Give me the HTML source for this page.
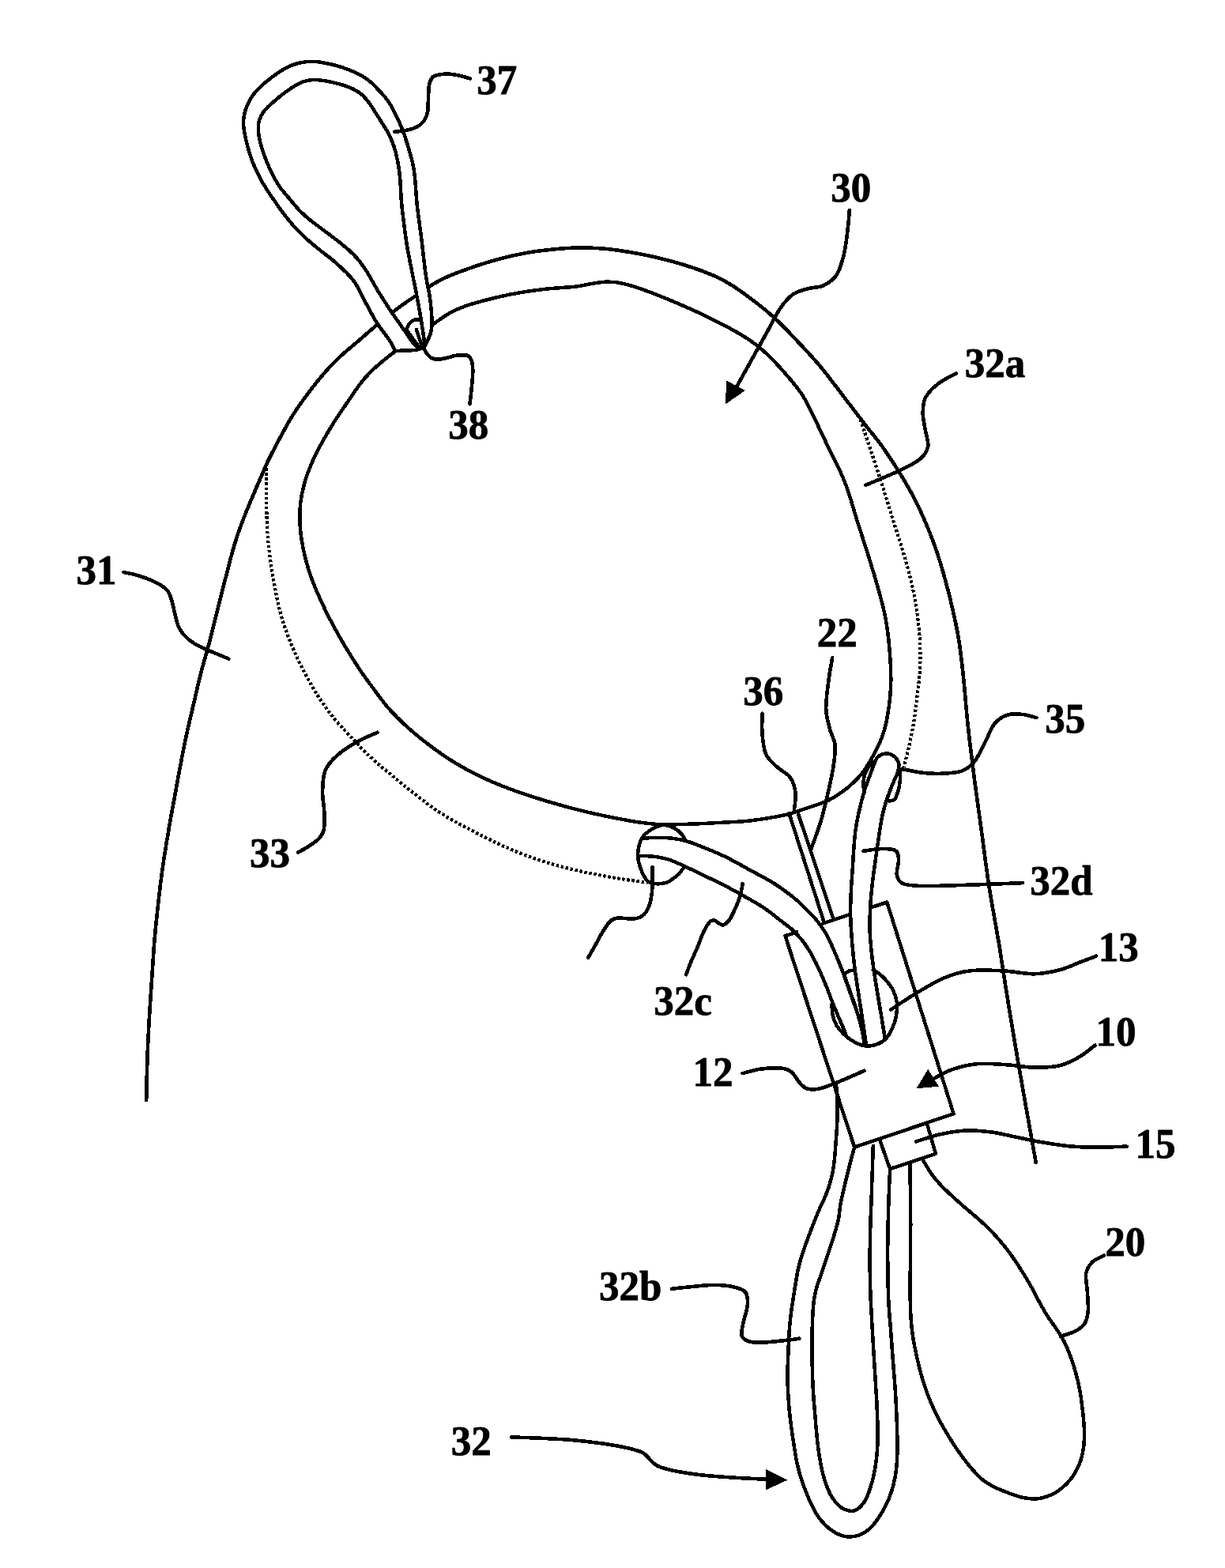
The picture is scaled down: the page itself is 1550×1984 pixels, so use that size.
<!DOCTYPE html>
<html lang="en"><head><meta charset="utf-8"><title>Patent drawing</title>
<style>
html,body{margin:0;padding:0;background:#fff;}
body{width:1550px;height:1984px;overflow:hidden;}
svg{display:block;}
.l{fill:none;stroke:#000;stroke-width:4.5;stroke-linecap:round;stroke-linejoin:round;}
.t{fill:none;stroke:#000;stroke-width:4.6;stroke-linecap:round;stroke-linejoin:round;}
.d{fill:none;stroke:#000;stroke-width:4.2;stroke-dasharray:3.4 2.7;stroke-linecap:butt;}
.h{fill:none;stroke:#000;stroke-width:4.6;stroke-linecap:round;stroke-linejoin:round;}
.w{fill:#fff;stroke:none;}
.a{fill:#000;stroke:#000;stroke-width:1;stroke-linejoin:miter;}
text{font-family:"Liberation Serif","DejaVu Serif",serif;font-weight:bold;font-size:51px;fill:#000;stroke:#000;stroke-width:0.8px;stroke-linejoin:round;}
</style></head><body>
<svg shape-rendering="crispEdges" xmlns="http://www.w3.org/2000/svg" width="1550" height="1984" viewBox="0 0 1550 1984">
<rect width="1550" height="1984" fill="#fff"/>
<path class="h" d="M185.2 1391.9 C185.2 1389.5 185.3 1383.1 185.5 1377.5 C185.6 1371.8 185.7 1364.6 185.9 1358.1 C186.1 1351.6 186.3 1345.0 186.5 1338.7 C186.7 1332.4 186.9 1326.3 187.2 1320.3 C187.5 1314.2 187.8 1308.3 188.1 1302.3 C188.4 1296.3 188.7 1290.3 189.1 1284.3 C189.5 1278.2 189.9 1272.2 190.3 1266.1 C190.7 1260.1 191.1 1254.0 191.5 1248.0 C191.9 1241.9 192.3 1235.9 192.7 1229.8 C193.1 1223.8 193.4 1217.7 193.9 1211.7 C194.3 1205.6 194.7 1199.6 195.2 1193.5 C195.7 1187.5 196.3 1181.3 196.8 1175.3 C197.4 1169.2 198.1 1163.0 198.7 1157.1 C199.3 1151.1 200.0 1145.2 200.6 1139.6 C201.3 1133.9 201.8 1128.6 202.5 1123.0 C203.2 1117.5 203.9 1111.8 204.7 1106.1 C205.4 1100.4 206.3 1094.8 207.1 1089.0 C208.0 1083.2 209.0 1077.2 209.9 1071.4 C210.8 1065.6 211.8 1059.8 212.8 1054.1 C213.7 1048.4 214.6 1042.8 215.6 1037.2 C216.6 1031.6 217.7 1026.0 218.7 1020.6 C219.7 1015.2 220.6 1010.1 221.6 1004.7 C222.6 999.4 223.6 993.8 224.6 988.2 C225.6 982.7 226.6 977.2 227.7 971.7 C228.7 966.1 229.8 960.6 230.8 955.1 C231.9 949.5 233.0 944.0 234.1 938.5 C235.3 932.9 236.5 927.4 237.7 921.9 C238.9 916.4 240.3 910.8 241.6 905.3 C242.8 899.8 244.2 894.2 245.5 888.7 C246.8 883.1 248.0 877.5 249.3 872.0 C250.6 866.4 251.8 860.9 253.2 855.4 C254.6 849.9 256.0 844.7 257.6 839.1 C259.1 833.4 260.9 827.5 262.5 821.7 C264.1 815.9 265.6 810.1 267.1 804.3 C268.6 798.5 270.0 792.9 271.5 786.9 C273.0 780.9 274.5 774.3 276.1 768.2 C277.6 762.1 279.1 756.0 280.6 750.0 C282.2 744.0 283.7 738.1 285.2 732.2 C286.8 726.2 288.3 720.0 289.8 714.3 C291.3 708.6 292.6 703.5 294.2 698.0 C295.7 692.6 297.3 686.9 299.1 681.4 C300.9 675.8 302.9 670.2 304.9 664.9 C306.8 659.6 308.7 654.8 310.7 649.7 C312.8 644.6 314.7 639.8 317.0 634.3 C319.3 628.9 321.8 623.0 324.3 617.2 C326.8 611.4 329.4 605.2 331.9 599.5 C334.4 593.8 336.8 588.1 339.4 582.8 C341.9 577.5 344.4 572.8 347.1 567.6 C349.8 562.4 352.8 556.8 355.6 551.6 C358.4 546.4 361.1 541.5 363.8 536.6 C366.6 531.8 369.2 527.2 372.3 522.5 C375.3 517.8 378.6 513.1 382.0 508.4 C385.3 503.7 388.9 498.9 392.5 494.2 C396.1 489.5 399.8 484.7 403.6 480.1 C407.4 475.5 411.2 471.0 415.2 466.6 C419.2 462.2 423.3 457.9 427.6 453.8 C432.0 449.6 436.8 445.6 441.3 441.6 C445.9 437.7 450.7 433.8 455.1 430.0 C459.5 426.2 463.6 422.5 467.9 418.8 C472.2 415.1 476.5 411.5 480.9 407.8 C485.3 404.2 489.6 400.8 494.3 397.1 C499.0 393.4 504.3 389.3 509.3 385.7 C514.4 382.0 519.7 378.7 524.5 375.4 C529.3 372.2 533.6 368.9 538.2 365.9 C542.7 362.9 546.8 360.2 551.7 357.4 C556.6 354.7 562.2 351.9 567.6 349.5 C573.0 347.1 578.5 345.1 584.3 343.0 C590.2 340.8 596.6 338.5 602.7 336.5 C608.8 334.4 615.0 332.5 621.1 330.7 C627.2 328.9 633.3 327.2 639.4 325.7 C645.4 324.2 651.3 322.9 657.4 321.7 C663.4 320.5 669.5 319.4 675.8 318.4 C682.2 317.5 689.2 316.7 695.5 316.0 C701.7 315.3 707.2 314.7 713.3 314.3 C719.3 313.9 725.5 313.6 731.6 313.5 C737.7 313.4 743.7 313.5 750.0 313.8 C756.4 314.0 763.4 314.5 769.7 315.2 C776.0 315.8 781.6 316.7 787.8 317.6 C794.0 318.5 800.4 319.6 806.6 320.8 C812.8 321.9 818.9 323.2 825.0 324.5 C831.1 325.9 837.1 327.3 843.1 328.8 C849.1 330.4 855.2 332.1 861.0 333.8 C866.8 335.6 872.3 337.3 877.9 339.2 C883.5 341.1 889.0 343.0 894.4 345.2 C899.7 347.3 904.8 349.4 910.0 352.0 C915.3 354.6 920.7 357.7 925.8 360.8 C930.9 364.0 935.6 367.4 940.4 370.8 C945.2 374.2 950.0 377.7 954.7 381.3 C959.3 384.9 964.0 388.6 968.5 392.3 C973.0 396.1 977.4 400.0 981.6 403.9 C985.9 407.9 989.9 411.9 994.0 416.1 C998.1 420.2 1002.2 424.6 1006.3 428.9 C1010.4 433.1 1014.3 437.3 1018.3 441.7 C1022.4 446.0 1026.6 450.6 1030.6 455.1 C1034.5 459.7 1038.5 464.3 1042.2 468.9 C1046.0 473.5 1049.5 478.1 1053.0 482.8 C1056.6 487.4 1060.2 492.2 1063.8 497.0 C1067.4 501.8 1071.0 506.5 1074.8 511.4 C1078.6 516.4 1082.7 521.8 1086.5 526.7 C1090.2 531.6 1093.9 536.4 1097.3 540.8 C1100.7 545.1 1103.8 548.7 1106.8 552.6 C1109.9 556.5 1112.6 559.8 1115.7 564.2 C1118.9 568.5 1122.3 573.8 1125.8 578.9 C1129.2 584.0 1132.8 589.6 1136.2 595.0 C1139.6 600.4 1143.0 605.9 1146.2 611.4 C1149.4 616.8 1152.5 622.3 1155.4 627.7 C1158.3 633.2 1160.9 638.6 1163.5 644.1 C1166.1 649.6 1168.5 655.1 1170.9 660.7 C1173.3 666.3 1175.7 672.0 1177.9 677.8 C1180.2 683.5 1182.4 689.5 1184.3 695.2 C1186.3 700.9 1188.0 706.3 1189.7 711.8 C1191.4 717.4 1193.0 723.0 1194.6 728.6 C1196.1 734.2 1197.6 739.7 1199.1 745.3 C1200.5 750.8 1201.9 756.3 1203.2 761.8 C1204.5 767.3 1205.8 772.8 1207.0 778.3 C1208.2 783.7 1209.4 788.9 1210.4 794.5 C1211.5 800.0 1212.6 805.7 1213.5 811.5 C1214.4 817.2 1215.1 823.0 1215.9 829.0 C1216.6 834.9 1217.3 841.3 1218.0 847.4 C1218.7 853.5 1219.3 859.6 1219.9 865.5 C1220.4 871.3 1220.9 876.7 1221.4 882.5 C1221.9 888.2 1222.4 894.2 1223.0 900.2 C1223.5 906.2 1224.2 912.5 1224.8 918.5 C1225.5 924.5 1226.1 930.3 1226.8 936.4 C1227.6 942.5 1228.3 948.9 1229.1 955.2 C1229.9 961.5 1230.7 968.0 1231.4 974.2 C1232.2 980.4 1233.0 986.3 1233.8 992.3 C1234.6 998.3 1235.4 1004.1 1236.2 1010.0 C1237.0 1015.9 1237.8 1021.9 1238.6 1027.8 C1239.5 1033.8 1240.3 1039.8 1241.1 1045.7 C1241.9 1051.6 1242.7 1057.5 1243.5 1063.4 C1244.3 1069.3 1245.0 1075.1 1245.8 1081.0 C1246.6 1086.9 1247.3 1092.8 1248.2 1098.7 C1249.0 1104.6 1249.8 1110.6 1250.7 1116.6 C1251.6 1122.5 1252.6 1128.4 1253.6 1134.6 C1254.6 1140.8 1255.8 1147.4 1256.9 1153.7 C1258.0 1160.0 1259.2 1166.7 1260.2 1172.4 C1261.2 1178.2 1262.2 1183.4 1263.0 1188.4 C1263.9 1193.5 1264.6 1197.9 1265.4 1202.7 C1266.1 1207.6 1266.8 1212.1 1267.6 1217.5 C1268.4 1222.9 1269.4 1229.0 1270.4 1235.4 C1271.4 1241.8 1272.6 1249.2 1273.6 1255.8 C1274.7 1262.4 1275.7 1268.9 1276.8 1275.3 C1277.8 1281.6 1278.8 1287.5 1279.8 1293.7 C1280.8 1299.9 1281.9 1306.2 1282.9 1312.4 C1284.0 1318.6 1285.0 1324.8 1286.1 1331.0 C1287.1 1337.1 1288.1 1343.2 1289.2 1349.3 C1290.3 1355.4 1291.4 1361.7 1292.4 1367.7 C1293.5 1373.7 1294.5 1379.6 1295.5 1385.4 C1296.5 1391.1 1297.5 1396.4 1298.5 1402.3 C1299.6 1408.2 1300.7 1414.8 1301.8 1420.7 C1302.8 1426.5 1303.7 1431.6 1304.7 1437.2 C1305.8 1442.9 1306.8 1448.9 1307.8 1454.5 C1308.8 1460.1 1310.2 1468.2 1310.6 1471.0"/>
<path class="w" d="M500.2 444.3 L499.0 441.9 L497.3 438.4 L495.4 434.8 L493.4 431.5 L491.2 428.2 L488.8 424.9 L486.4 421.7 L483.9 418.4 L481.5 415.2 L479.2 411.9 L477.0 408.7 L474.9 405.4 L473.0 402.2 L471.3 398.9 L469.4 395.5 L467.5 391.9 L465.4 388.2 L463.5 384.5 L461.7 381.2 L460.1 377.9 L458.4 374.6 L456.7 371.1 L455.0 367.7 L453.2 364.3 L451.1 360.9 L449.0 357.5 L446.7 354.4 L444.2 351.4 L441.6 348.6 L438.9 345.7 L436.1 342.9 L433.1 340.0 L430.1 337.2 L427.0 334.3 L423.8 331.5 L420.6 328.8 L417.3 326.1 L414.0 323.6 L410.6 321.0 L407.3 318.4 L403.9 315.7 L400.5 313.0 L397.1 310.2 L393.7 307.4 L390.4 304.5 L387.2 301.6 L384.0 298.7 L380.8 295.6 L377.8 292.6 L374.7 289.4 L371.8 286.2 L369.0 283.0 L366.3 279.8 L363.7 276.5 L361.1 273.2 L358.6 270.0 L356.1 266.7 L353.7 263.4 L351.4 260.1 L349.1 256.8 L346.8 253.4 L344.6 250.1 L342.3 246.8 L340.1 243.5 L337.9 240.1 L335.7 236.7 L333.5 233.3 L331.4 229.8 L329.4 226.2 L327.5 222.5 L325.7 218.6 L323.9 214.8 L322.2 211.0 L320.5 207.2 L319.0 203.4 L317.6 199.6 L316.4 195.9 L315.2 192.2 L314.1 188.5 L313.2 184.8 L312.2 181.0 L311.3 177.2 L310.5 173.4 L309.7 169.4 L309.0 165.4 L308.4 161.3 L308.1 157.3 L308.1 153.3 L308.4 149.3 L309.0 145.3 L309.9 141.3 L311.2 137.4 L312.7 133.5 L314.5 129.7 L316.5 125.9 L318.7 122.3 L321.1 119.1 L323.6 116.1 L326.2 113.2 L329.0 110.3 L331.9 107.6 L334.9 105.0 L338.0 102.4 L341.3 99.9 L344.5 97.4 L347.7 95.0 L351.0 92.7 L354.2 90.6 L357.4 88.5 L360.6 86.7 L363.9 84.9 L367.4 83.4 L371.0 82.0 L374.8 80.7 L378.9 79.7 L383.2 78.8 L387.5 78.2 L391.8 77.9 L396.1 77.8 L400.4 78.0 L404.7 78.6 L409.0 79.3 L413.3 80.2 L417.6 81.1 L421.9 82.1 L426.2 83.2 L430.6 84.5 L434.9 86.0 L439.1 87.5 L443.2 89.1 L447.1 90.7 L450.8 92.4 L454.3 94.1 L457.5 95.8 L460.7 97.7 L464.1 100.0 L467.4 102.6 L470.5 105.2 L473.1 107.7 L475.6 110.3 L478.0 113.0 L480.7 115.7 L483.3 118.5 L485.9 121.3 L488.4 124.4 L490.8 127.6 L493.0 130.8 L495.0 134.1 L496.7 137.4 L498.4 140.7 L500.1 143.9 L501.7 147.2 L503.3 150.6 L505.0 154.3 L506.7 158.0 L508.2 161.7 L509.7 165.3 L511.0 168.9 L512.3 172.7 L513.6 176.6 L514.9 180.6 L516.2 184.8 L517.4 189.0 L518.7 193.3 L519.8 197.6 L521.0 201.9 L522.0 206.1 L522.9 210.2 L523.6 214.2 L524.2 218.1 L524.7 222.0 L525.1 225.9 L525.4 229.9 L525.8 233.9 L526.0 237.9 L526.3 241.8 L526.6 245.9 L526.9 250.3 L527.3 254.9 L527.7 259.3 L528.2 263.4 L528.7 267.5 L529.2 271.6 L529.8 275.8 L530.3 280.1 L530.9 284.4 L531.5 288.8 L532.1 293.1 L532.7 297.4 L533.2 301.6 L533.7 305.7 L534.2 309.8 L534.7 314.0 L535.2 318.2 L535.6 322.2 L536.0 326.0 L536.5 329.8 L536.9 333.5 L537.4 337.2 L537.8 340.9 L538.3 344.5 L538.8 348.0 L539.3 351.5 L539.9 354.9 L540.5 358.4 L541.2 361.8 L541.9 365.3 L542.6 368.9 L543.3 372.5 L543.9 376.2 L544.4 379.8 L544.8 383.5 L545.2 387.2 L545.6 391.1 L545.9 395.0 L546.2 399.0 L546.4 403.2 L546.6 407.5 L546.5 411.7 L546.1 415.5 L545.4 419.2 L544.3 423.2 L542.8 426.9 L540.8 431.1 L539.0 434.9 L537.7 437.5 L537.7 437.5 L537.3 434.9 L536.8 431.1 L536.3 427.2 L535.8 423.6 L535.2 419.8 L534.6 416.0 L534.0 412.1 L533.4 408.2 L532.7 404.2 L532.1 400.2 L531.4 396.2 L530.7 392.2 L530.0 388.1 L529.2 384.1 L528.5 380.1 L527.8 376.3 L527.0 372.5 L526.3 368.8 L525.6 365.2 L524.9 361.7 L524.2 358.2 L523.5 354.8 L522.8 351.4 L522.1 347.9 L521.4 344.3 L520.6 340.5 L519.9 336.8 L519.1 333.2 L518.4 329.6 L517.7 325.7 L516.9 321.6 L516.1 317.2 L515.3 312.9 L514.7 308.8 L514.0 304.6 L513.4 300.5 L512.9 296.3 L512.3 292.0 L511.7 287.7 L511.2 283.3 L510.6 278.9 L510.1 274.6 L509.6 270.7 L509.2 266.9 L508.7 263.0 L508.3 258.9 L507.9 254.8 L507.6 250.8 L507.4 247.2 L507.2 243.8 L507.1 240.4 L506.9 236.6 L506.7 232.8 L506.4 228.9 L506.0 224.9 L505.7 220.9 L505.2 216.8 L504.6 212.7 L503.9 208.4 L503.2 204.2 L502.3 199.9 L501.4 195.6 L500.3 191.4 L499.1 187.2 L497.7 183.1 L496.2 179.1 L494.6 175.3 L492.9 171.5 L491.0 167.8 L488.8 164.2 L486.5 160.5 L484.3 157.0 L482.1 153.5 L479.9 150.1 L477.8 146.7 L475.8 143.5 L473.7 140.3 L471.7 137.2 L469.6 134.0 L467.5 130.8 L465.2 127.7 L462.7 124.8 L460.1 121.9 L457.3 119.3 L454.2 116.9 L450.8 114.8 L447.2 112.8 L443.3 111.0 L439.1 109.4 L434.8 107.9 L430.6 106.6 L426.3 105.5 L421.9 104.5 L417.6 103.6 L413.3 102.7 L409.0 102.0 L404.7 101.4 L400.4 101.0 L396.1 101.0 L391.9 101.4 L387.7 102.3 L383.7 103.4 L380.2 104.8 L376.8 106.5 L373.5 108.4 L370.3 110.3 L367.1 112.5 L363.9 114.7 L360.6 117.1 L357.4 119.5 L354.1 122.1 L350.9 124.8 L347.7 127.5 L344.6 130.2 L341.8 132.7 L339.1 135.1 L336.6 137.7 L334.2 140.6 L332.0 143.7 L330.2 146.9 L328.8 150.2 L327.7 153.6 L327.0 157.2 L326.7 161.0 L326.8 165.1 L327.2 169.2 L327.9 173.4 L328.8 177.8 L329.8 182.1 L331.1 186.5 L332.5 190.8 L333.9 195.1 L335.5 199.4 L337.2 203.7 L338.8 207.8 L340.5 211.6 L342.1 215.2 L343.8 218.7 L345.4 222.0 L347.1 225.2 L348.9 228.4 L350.8 231.6 L352.8 234.8 L355.0 238.0 L357.3 241.0 L359.8 243.9 L362.4 246.9 L364.9 250.0 L367.5 253.0 L370.1 256.1 L372.8 259.2 L375.4 262.4 L378.1 265.3 L380.8 268.1 L383.6 270.8 L386.5 273.4 L389.4 275.9 L392.3 278.4 L395.3 280.7 L398.4 283.1 L401.5 285.4 L404.6 287.7 L407.8 290.0 L410.9 292.4 L414.0 294.7 L417.2 297.0 L420.3 299.4 L423.4 301.8 L426.6 304.2 L429.8 306.8 L433.0 309.4 L436.2 312.0 L439.5 314.8 L442.7 317.6 L445.8 320.6 L448.8 323.6 L451.7 326.7 L454.4 329.9 L456.9 333.2 L459.3 336.5 L461.7 340.0 L464.0 343.5 L466.2 347.1 L468.3 350.6 L470.3 354.2 L472.3 357.7 L474.3 361.3 L476.3 364.8 L478.4 368.4 L480.6 371.9 L482.9 375.5 L485.1 379.0 L487.4 382.6 L489.7 386.2 L491.9 389.7 L494.2 393.1 L496.5 396.4 L498.7 399.7 L501.0 403.0 L503.2 406.2 L505.5 409.4 L507.7 412.6 L510.0 415.8 L512.3 419.1 L514.6 422.5 L516.9 425.8 L519.2 429.1 L521.6 432.3 L523.9 435.3 L526.5 437.6 L531.2 439.0 L535.0 439.4Z"/>
<path class="l" d="M500.2 444.3 C499.4 442.7 497.3 438.1 495.4 434.8 C493.5 431.6 491.2 428.2 488.8 424.9 C486.5 421.7 483.9 418.4 481.5 415.2 C479.2 411.9 477.0 408.7 474.9 405.4 C472.9 402.2 471.4 399.0 469.4 395.5 C467.5 392.0 465.3 388.0 463.5 384.5 C461.6 381.1 460.1 378.0 458.4 374.6 C456.7 371.2 455.1 367.6 453.2 364.3 C451.2 360.9 449.1 357.4 446.7 354.4 C444.3 351.3 441.7 348.6 438.9 345.7 C436.1 342.9 433.2 340.0 430.1 337.2 C427.1 334.3 423.9 331.5 420.6 328.8 C417.4 326.1 414.0 323.6 410.6 321.0 C407.3 318.4 403.9 315.8 400.5 313.0 C397.1 310.3 393.7 307.4 390.4 304.5 C387.1 301.6 383.9 298.7 380.8 295.6 C377.7 292.6 374.7 289.4 371.8 286.2 C369.0 283.0 366.3 279.8 363.7 276.5 C361.0 273.3 358.5 269.9 356.1 266.7 C353.7 263.4 351.4 260.1 349.1 256.8 C346.8 253.4 344.6 250.1 342.3 246.8 C340.1 243.5 337.8 240.2 335.7 236.7 C333.5 233.3 331.4 229.8 329.4 226.2 C327.5 222.5 325.6 218.6 323.9 214.8 C322.1 211.0 320.4 207.1 319.0 203.4 C317.6 199.6 316.3 195.9 315.2 192.2 C314.1 188.4 313.2 184.8 312.2 181.0 C311.3 177.3 310.4 173.4 309.7 169.4 C309.0 165.5 308.2 161.3 308.1 157.3 C308.0 153.2 308.2 149.2 309.0 145.3 C309.8 141.3 311.1 137.3 312.7 133.5 C314.3 129.7 316.5 125.7 318.7 122.3 C321.0 118.9 323.5 116.1 326.2 113.2 C328.9 110.3 331.9 107.6 334.9 105.0 C338.0 102.4 341.3 99.8 344.5 97.4 C347.7 95.0 351.0 92.6 354.2 90.6 C357.4 88.5 360.5 86.6 363.9 84.9 C367.3 83.3 370.8 81.9 374.8 80.7 C378.7 79.6 383.2 78.6 387.5 78.2 C391.8 77.7 396.1 77.7 400.4 78.0 C404.7 78.4 409.0 79.3 413.3 80.2 C417.6 81.0 421.9 82.0 426.2 83.2 C430.5 84.4 435.0 85.9 439.1 87.5 C443.2 89.0 447.2 90.7 450.8 92.4 C454.4 94.1 457.5 95.6 460.7 97.7 C464.0 99.8 467.6 102.6 470.5 105.2 C473.4 107.7 475.5 110.3 478.0 113.0 C480.6 115.7 483.4 118.4 485.9 121.3 C488.4 124.3 490.9 127.6 493.0 130.8 C495.1 134.0 496.7 137.4 498.4 140.7 C500.2 144.0 501.7 147.1 503.3 150.6 C505.0 154.1 506.7 158.0 508.2 161.7 C509.7 165.4 511.0 168.8 512.3 172.7 C513.6 176.5 514.9 180.6 516.2 184.8 C517.4 188.9 518.7 193.4 519.8 197.6 C521.0 201.8 522.1 206.2 522.9 210.2 C523.7 214.3 524.2 218.0 524.7 222.0 C525.2 225.9 525.4 229.9 525.8 233.9 C526.1 237.9 526.3 241.7 526.6 245.9 C526.9 250.2 527.3 255.0 527.7 259.3 C528.1 263.6 528.7 267.4 529.2 271.6 C529.7 275.7 530.4 280.1 530.9 284.4 C531.5 288.8 532.1 293.2 532.7 297.4 C533.2 301.6 533.7 305.7 534.2 309.8 C534.7 314.0 535.2 318.2 535.6 322.2 C536.1 326.1 536.5 329.8 536.9 333.5 C537.4 337.2 537.8 341.0 538.3 344.5 C538.8 348.1 539.3 351.5 539.9 354.9 C540.5 358.4 541.2 361.8 541.9 365.3 C542.5 368.8 543.4 372.5 543.9 376.2 C544.5 379.8 544.8 383.4 545.2 387.2 C545.6 391.0 546.0 395.0 546.2 399.0 C546.4 403.1 546.8 407.7 546.5 411.7 C546.2 415.7 545.7 418.9 544.3 423.2 C542.8 427.5 538.8 435.2 537.7 437.5"/>
<path class="l" d="M535.0 439.4 C533.6 439.1 529.1 439.3 526.5 437.6 C523.8 435.9 521.6 432.1 519.2 429.1 C516.9 426.0 514.6 422.4 512.3 419.1 C510.0 415.8 507.7 412.6 505.5 409.4 C503.2 406.1 501.0 403.0 498.7 399.7 C496.5 396.5 494.2 393.1 491.9 389.7 C489.7 386.3 487.4 382.6 485.1 379.0 C482.9 375.5 480.5 371.9 478.4 368.4 C476.2 364.8 474.3 361.3 472.3 357.7 C470.2 354.2 468.3 350.6 466.2 347.1 C464.0 343.5 461.7 339.9 459.3 336.5 C456.9 333.1 454.5 329.9 451.7 326.7 C448.9 323.6 445.8 320.5 442.7 317.6 C439.6 314.8 436.2 312.0 433.0 309.4 C429.8 306.7 426.6 304.2 423.4 301.8 C420.2 299.3 417.2 297.0 414.0 294.7 C410.9 292.4 407.7 290.0 404.6 287.7 C401.5 285.4 398.3 283.1 395.3 280.7 C392.3 278.4 389.3 276.0 386.5 273.4 C383.6 270.8 380.8 268.2 378.1 265.3 C375.4 262.5 372.8 259.2 370.1 256.1 C367.5 253.0 364.9 249.9 362.4 246.9 C359.9 243.9 357.2 241.0 355.0 238.0 C352.7 234.9 350.8 231.6 348.9 228.4 C347.1 225.2 345.4 222.1 343.8 218.7 C342.1 215.3 340.5 211.8 338.8 207.8 C337.2 203.9 335.4 199.3 333.9 195.1 C332.4 190.8 331.0 186.5 329.8 182.1 C328.7 177.8 327.7 173.3 327.2 169.2 C326.8 165.0 326.5 160.9 327.0 157.2 C327.5 153.5 328.6 150.1 330.2 146.9 C331.8 143.6 334.1 140.5 336.6 137.7 C339.0 134.9 341.7 132.8 344.6 130.2 C347.6 127.6 350.9 124.7 354.1 122.1 C357.3 119.5 360.6 117.0 363.9 114.7 C367.1 112.4 370.2 110.3 373.5 108.4 C376.9 106.5 380.0 104.6 383.7 103.4 C387.5 102.1 391.9 101.2 396.1 101.0 C400.3 100.8 404.7 101.4 409.0 102.0 C413.3 102.6 417.6 103.6 421.9 104.5 C426.2 105.5 430.6 106.5 434.8 107.9 C439.1 109.3 443.5 110.9 447.2 112.8 C451.0 114.7 454.3 116.8 457.3 119.3 C460.3 121.7 462.8 124.8 465.2 127.7 C467.6 130.7 469.6 134.0 471.7 137.2 C473.8 140.4 475.7 143.4 477.8 146.7 C479.9 150.0 482.1 153.4 484.3 157.0 C486.4 160.5 489.0 164.1 491.0 167.8 C493.0 171.5 494.7 175.2 496.2 179.1 C497.8 183.1 499.2 187.2 500.3 191.4 C501.5 195.5 502.3 200.0 503.2 204.2 C504.0 208.4 504.6 212.7 505.2 216.8 C505.7 220.9 506.1 225.0 506.4 228.9 C506.7 232.8 506.9 236.7 507.1 240.4 C507.3 244.0 507.3 247.0 507.6 250.8 C507.9 254.6 508.3 259.0 508.7 263.0 C509.2 267.0 509.6 270.5 510.1 274.6 C510.6 278.8 511.2 283.4 511.7 287.7 C512.3 292.0 512.8 296.3 513.4 300.5 C514.0 304.7 514.6 308.7 515.3 312.9 C516.0 317.1 516.9 321.7 517.7 325.7 C518.4 329.7 519.1 333.1 519.9 336.8 C520.6 340.5 521.4 344.4 522.1 347.9 C522.8 351.5 523.4 354.7 524.2 358.2 C524.9 361.7 525.6 365.2 526.3 368.8 C527.0 372.5 527.8 376.3 528.5 380.1 C529.2 384.0 530.0 388.2 530.7 392.2 C531.4 396.2 532.1 400.2 532.7 404.2 C533.4 408.2 534.0 412.2 534.6 416.0 C535.2 419.8 535.8 423.6 536.3 427.2 C536.8 430.8 537.4 435.8 537.7 437.5"/>
<path class="l" d="M500.2 444.3 C501.3 444.2 502.8 443.9 507.0 443.7 C511.1 443.5 520.4 443.5 525.0 443.0 C529.7 442.4 533.3 440.7 535.0 440.3"/>
<path class="l" d="M514.2 416.8 C514.9 415.4 516.9 410.7 518.7 408.6 C520.5 406.6 522.9 405.2 525.0 404.6 C527.1 404.0 530.3 405.0 531.4 405.0"/>
<path class="l" d="M526.8 416.8 C527.6 419.0 530.2 426.9 531.4 430.3 C532.6 433.8 533.6 436.3 534.1 437.5"/>
<path class="l" d="M515.1 418.6 L530.5 439.4"/>
<path class="l" d="M499.7 444.8 C497.7 446.4 491.8 450.8 487.4 454.4 C483.0 458.0 477.8 462.2 473.4 466.4 C468.9 470.6 464.5 475.2 460.6 479.6 C456.8 484.1 453.8 488.4 450.5 493.0 C447.2 497.6 444.0 502.5 440.7 507.3 C437.5 512.1 434.3 516.6 431.0 521.6 C427.7 526.5 424.2 531.7 421.0 536.8 C417.8 541.9 414.7 547.1 411.7 552.3 C408.7 557.6 405.7 562.9 402.9 568.2 C400.2 573.5 397.6 578.7 395.2 584.2 C392.8 589.6 390.6 595.4 388.6 600.9 C386.7 606.5 385.0 611.8 383.7 617.6 C382.3 623.4 381.0 629.6 380.3 635.8 C379.6 642.0 379.2 648.5 379.3 654.8 C379.3 661.2 379.8 667.6 380.4 673.8 C381.1 680.1 382.2 686.3 383.3 692.1 C384.4 698.0 385.7 703.3 387.1 708.9 C388.6 714.5 390.2 720.2 392.1 725.7 C393.9 731.3 396.0 736.8 398.3 742.3 C400.5 747.8 403.0 753.5 405.5 758.8 C407.9 764.2 410.4 769.3 412.9 774.4 C415.4 779.6 418.0 784.5 420.7 789.6 C423.4 794.6 426.2 799.7 429.1 804.9 C432.1 810.1 435.2 815.5 438.4 820.7 C441.6 826.0 444.9 831.3 448.3 836.6 C451.7 841.9 455.2 847.2 458.8 852.5 C462.5 857.8 466.7 863.5 470.4 868.5 C474.1 873.6 477.5 878.3 481.0 882.8 C484.5 887.4 487.9 891.9 491.5 896.1 C495.1 900.2 498.6 903.7 502.5 907.7 C506.5 911.7 510.9 915.9 515.4 919.9 C519.8 923.9 524.4 927.8 529.1 931.7 C533.8 935.6 538.8 939.5 543.7 943.2 C548.7 947.0 553.7 950.6 558.6 954.0 C563.6 957.4 568.4 960.5 573.2 963.6 C578.1 966.6 582.8 969.3 587.8 972.1 C592.7 974.9 597.8 977.6 603.1 980.2 C608.4 982.8 614.0 985.4 619.5 987.9 C625.0 990.3 630.6 992.6 636.1 994.8 C641.7 996.9 647.2 999.0 652.7 1001.0 C658.2 1002.9 663.8 1004.7 669.3 1006.6 C674.8 1008.4 680.4 1010.2 685.9 1011.9 C691.4 1013.6 697.0 1015.2 702.5 1016.8 C708.0 1018.4 713.5 1020.0 719.1 1021.5 C724.6 1022.9 730.1 1024.4 735.7 1025.7 C741.2 1027.1 746.7 1028.4 752.4 1029.7 C758.1 1030.9 764.2 1032.2 769.9 1033.3 C775.6 1034.5 781.1 1035.5 786.4 1036.6 C791.8 1037.6 796.7 1038.6 802.0 1039.4 C807.3 1040.3 812.5 1041.1 818.2 1041.7 C824.0 1042.3 830.2 1043.0 836.3 1043.2 C842.4 1043.5 848.9 1043.3 854.8 1043.3 C860.7 1043.2 866.2 1042.9 871.8 1042.7 C877.5 1042.5 882.8 1042.4 888.7 1042.1 C894.6 1041.8 901.2 1041.4 907.3 1041.1 C913.4 1040.8 919.4 1040.5 925.2 1040.2 C931.0 1039.8 936.2 1039.7 942.0 1039.2 C947.8 1038.7 953.8 1037.9 960.1 1037.0 C966.3 1036.2 973.1 1035.1 979.3 1033.9 C985.6 1032.8 991.7 1031.7 997.5 1030.2 C1003.4 1028.6 1009.0 1026.6 1014.6 1024.7 C1020.3 1022.9 1025.8 1021.1 1031.5 1019.1 C1037.2 1017.0 1043.3 1015.2 1048.8 1012.4 C1054.3 1009.7 1059.6 1006.3 1064.6 1002.7 C1069.7 999.2 1074.5 995.2 1078.9 991.0 C1083.4 986.9 1087.6 982.5 1091.2 977.9 C1094.8 973.2 1097.6 968.5 1100.6 963.4 C1103.7 958.3 1106.9 952.8 1109.6 947.3 C1112.3 941.7 1114.9 935.9 1116.9 930.1 C1118.9 924.4 1120.4 918.4 1121.7 912.6 C1122.9 906.7 1123.8 900.8 1124.6 895.0 C1125.4 889.2 1126.1 883.6 1126.5 877.8 C1127.0 872.0 1127.2 866.2 1127.3 860.1 C1127.3 854.0 1127.1 847.5 1126.8 841.1 C1126.5 834.8 1126.0 827.9 1125.5 821.9 C1125.0 815.8 1124.5 810.3 1123.8 804.7 C1123.1 799.1 1122.4 793.6 1121.5 788.1 C1120.6 782.6 1119.4 777.1 1118.2 771.5 C1116.9 766.0 1115.4 760.4 1114.0 754.9 C1112.5 749.4 1111.0 743.9 1109.4 738.5 C1107.9 733.1 1106.3 727.8 1104.6 722.3 C1103.0 716.8 1101.2 711.1 1099.4 705.3 C1097.6 699.5 1095.7 693.6 1093.8 687.6 C1091.9 681.6 1089.8 675.3 1087.8 669.1 C1085.9 663.0 1083.9 656.8 1082.1 650.7 C1080.2 644.6 1078.5 638.6 1076.6 632.6 C1074.6 626.6 1072.7 620.4 1070.6 614.6 C1068.4 608.8 1066.1 603.2 1063.7 597.8 C1061.3 592.3 1058.7 587.2 1056.0 581.8 C1053.4 576.4 1050.6 571.0 1047.9 565.6 C1045.3 560.1 1042.6 554.6 1040.0 549.0 C1037.3 543.3 1034.5 537.3 1031.8 531.7 C1029.2 526.2 1026.7 520.8 1024.0 515.6 C1021.3 510.5 1018.7 505.5 1015.8 500.8 C1012.9 496.2 1009.9 492.3 1006.5 487.9 C1003.0 483.4 999.2 479.0 995.1 474.3 C991.0 469.6 986.2 464.2 982.0 459.7 C977.7 455.2 973.6 451.0 969.4 447.1 C965.2 443.1 961.1 439.6 956.5 436.1 C952.0 432.6 947.2 429.4 942.2 426.3 C937.2 423.1 931.8 420.1 926.5 417.1 C921.1 414.1 915.4 411.1 910.0 408.3 C904.5 405.5 899.3 402.9 893.9 400.3 C888.6 397.7 883.1 395.2 877.7 392.8 C872.2 390.3 866.8 387.9 861.2 385.5 C855.7 383.1 850.1 380.7 844.6 378.5 C839.0 376.2 833.4 373.9 828.0 371.8 C822.6 369.7 817.6 367.8 812.1 365.9 C806.7 364.1 800.9 362.1 795.5 360.7 C790.1 359.2 785.3 358.0 780.0 357.3 C774.7 356.7 769.2 356.5 763.7 356.8 C758.1 357.2 752.4 358.4 746.7 359.3 C741.0 360.3 735.0 361.8 729.4 362.5 C723.9 363.3 719.0 363.4 713.5 363.8 C708.0 364.3 702.3 364.6 696.5 365.1 C690.6 365.7 684.7 366.4 678.6 367.2 C672.4 368.0 665.9 368.9 659.5 370.0 C653.2 371.0 646.9 372.3 640.6 373.6 C634.3 374.9 627.8 376.5 621.7 377.9 C615.6 379.4 609.9 380.9 604.1 382.6 C598.3 384.2 592.6 385.8 587.1 387.9 C581.5 390.0 576.0 392.3 570.7 395.1 C565.3 398.0 559.2 402.4 555.2 405.1 C551.2 407.8 548.1 410.3 546.7 411.4"/>
<path class="d" d="M337.2 586.2 C337.2 588.9 337.0 596.4 336.9 602.5 C336.9 608.6 336.9 616.5 337.0 622.9 C337.0 629.4 337.1 634.8 337.3 641.1 C337.4 647.4 337.5 654.2 337.8 660.6 C338.1 667.0 338.3 673.1 338.8 679.4 C339.3 685.6 340.0 691.9 340.7 698.0 C341.4 704.0 342.3 709.7 343.2 715.7 C344.2 721.6 345.2 727.5 346.2 733.5 C347.2 739.5 348.3 745.7 349.5 751.8 C350.7 757.9 351.9 763.9 353.4 769.9 C354.9 775.8 356.5 781.6 358.3 787.3 C360.1 793.0 362.1 798.5 364.2 804.2 C366.4 809.8 368.6 815.3 371.1 821.0 C373.5 826.7 376.1 832.5 378.9 838.2 C381.6 843.9 384.6 849.7 387.6 855.2 C390.5 860.7 393.5 866.1 396.6 871.2 C399.7 876.4 402.8 881.4 406.1 886.2 C409.3 891.1 412.5 895.6 416.1 900.4 C419.6 905.1 423.6 909.9 427.6 914.6 C431.6 919.3 436.0 924.0 440.2 928.4 C444.3 932.9 448.4 937.2 452.5 941.4 C456.5 945.7 460.3 949.7 464.6 953.9 C468.9 958.0 473.5 962.2 478.0 966.2 C482.5 970.2 486.9 973.7 491.5 977.6 C496.2 981.5 501.3 985.6 506.1 989.5 C510.9 993.4 515.5 997.1 520.3 1000.9 C525.1 1004.7 530.1 1008.7 535.0 1012.4 C539.8 1016.1 544.3 1019.6 549.2 1023.1 C554.1 1026.5 559.1 1029.8 564.3 1033.0 C569.6 1036.3 575.3 1039.3 580.8 1042.3 C586.3 1045.3 591.9 1048.1 597.4 1051.0 C602.9 1053.9 608.5 1056.8 614.0 1059.6 C619.5 1062.4 625.1 1065.1 630.6 1067.7 C636.1 1070.3 641.7 1072.7 647.2 1075.1 C652.7 1077.4 658.2 1079.6 663.8 1081.7 C669.3 1083.8 674.8 1085.8 680.4 1087.6 C685.9 1089.5 691.4 1091.2 697.0 1092.8 C702.5 1094.4 708.0 1095.9 713.5 1097.4 C719.1 1098.8 724.6 1100.1 730.1 1101.4 C735.7 1102.7 741.2 1103.8 746.7 1105.0 C752.3 1106.1 758.0 1107.2 763.7 1108.3 C769.3 1109.3 774.9 1110.3 780.5 1111.2 C786.2 1112.1 791.4 1113.0 797.7 1113.9 C804.1 1114.8 815.3 1116.2 818.8 1116.6"/>
<path class="d" d="M1088.7 530.6 C1089.5 533.1 1091.8 540.0 1093.7 545.6 C1095.5 551.1 1097.9 558.2 1099.8 563.9 C1101.7 569.7 1103.4 574.7 1105.3 580.2 C1107.1 585.7 1109.0 591.4 1110.9 597.1 C1112.7 602.7 1114.5 608.3 1116.3 614.0 C1118.1 619.7 1119.9 625.4 1121.7 631.2 C1123.5 637.1 1125.4 643.1 1127.2 649.0 C1129.0 654.8 1130.9 660.6 1132.7 666.5 C1134.6 672.3 1136.5 678.2 1138.3 683.9 C1140.1 689.7 1141.9 695.3 1143.5 701.0 C1145.2 706.7 1146.9 712.5 1148.4 718.1 C1149.9 723.8 1151.4 729.4 1152.7 735.0 C1154.1 740.5 1155.3 746.0 1156.4 751.7 C1157.5 757.3 1158.5 763.0 1159.4 768.7 C1160.3 774.4 1161.0 779.9 1161.7 785.7 C1162.4 791.4 1162.9 797.1 1163.4 803.1 C1163.8 809.0 1164.2 815.3 1164.3 821.3 C1164.5 827.3 1164.6 833.0 1164.4 838.9 C1164.2 844.8 1163.8 850.8 1163.2 856.6 C1162.7 862.5 1162.0 868.2 1161.3 874.0 C1160.7 879.7 1160.1 885.4 1159.4 891.0 C1158.7 896.6 1158.0 902.0 1157.2 907.8 C1156.3 913.7 1155.2 920.1 1154.0 926.1 C1152.9 932.0 1151.6 938.0 1150.4 943.6 C1149.1 949.2 1147.6 955.1 1146.4 959.7 C1145.3 964.3 1144.0 969.2 1143.5 971.1"/>
<path class="l" d="M866.7 1062.5 C866.1 1061.4 864.7 1058.0 862.9 1055.9 C861.1 1053.7 858.6 1051.3 856.0 1049.6 C853.4 1047.8 850.3 1046.1 847.3 1045.2 C844.3 1044.3 841.0 1043.8 837.8 1044.1 C834.6 1044.4 831.2 1045.9 828.3 1047.2 C825.4 1048.5 822.9 1050.2 820.5 1052.0 C818.2 1053.7 816.0 1055.3 814.2 1057.6 C812.4 1059.9 810.8 1062.8 809.8 1065.7 C808.7 1068.6 808.1 1072.1 807.7 1075.0 C807.3 1077.9 807.1 1080.5 807.2 1083.2 C807.3 1085.9 807.7 1088.6 808.3 1091.3 C809.0 1094.1 809.9 1097.1 811.0 1100.0 C812.1 1102.8 813.4 1106.0 814.9 1108.5 C816.4 1111.1 817.9 1113.8 819.9 1115.3 C821.9 1116.9 824.3 1117.4 827.0 1117.9 C829.7 1118.4 833.1 1118.4 836.1 1118.1 C839.1 1117.8 842.3 1117.2 845.0 1116.1 C847.7 1114.9 849.9 1113.0 852.3 1111.2 C854.7 1109.5 856.9 1108.1 859.2 1105.7 C861.4 1103.3 864.7 1098.3 865.8 1096.8"/>
<path class="l" d="M813.4 1060.6 C816.8 1060.5 827.0 1059.9 833.6 1059.9 C840.2 1060.0 846.6 1060.1 852.8 1061.0 C859.1 1061.8 865.5 1063.3 871.3 1065.1 C877.1 1066.8 882.4 1069.1 887.8 1071.3 C893.2 1073.4 898.4 1075.5 903.8 1077.8 C909.1 1080.1 914.7 1082.5 919.9 1085.1 C925.1 1087.7 930.1 1090.5 935.1 1093.2 C940.2 1095.9 945.1 1098.8 950.0 1101.5 C954.9 1104.2 959.7 1106.6 964.6 1109.3 C969.4 1112.0 974.2 1114.5 979.1 1117.6 C984.0 1120.7 989.2 1124.3 994.1 1127.9 C998.9 1131.4 1003.7 1135.2 1008.1 1138.9 C1012.5 1142.7 1016.4 1146.6 1020.4 1150.6 C1024.4 1154.7 1028.4 1158.6 1032.3 1163.3 C1036.2 1168.0 1040.4 1173.5 1043.8 1179.0 C1047.1 1184.5 1049.7 1190.7 1052.4 1196.3 C1055.0 1202.0 1057.3 1207.4 1059.6 1212.9 C1061.9 1218.4 1064.1 1223.8 1066.2 1229.3 C1068.2 1234.7 1070.0 1240.1 1072.0 1245.6 C1073.9 1251.0 1075.9 1256.4 1077.8 1261.9 C1079.8 1267.4 1081.7 1272.7 1083.7 1278.6 C1085.6 1284.5 1087.8 1290.0 1089.5 1297.4 C1091.3 1304.7 1093.4 1318.4 1094.2 1322.6"/>
<path class="l" d="M808.0 1083.2 C810.9 1083.3 819.3 1082.9 825.5 1083.6 C831.8 1084.3 838.9 1085.4 845.5 1087.4 C852.0 1089.4 858.7 1092.7 864.8 1095.4 C870.9 1098.1 876.4 1101.0 882.0 1103.6 C887.6 1106.3 893.0 1108.9 898.5 1111.5 C903.9 1114.1 909.3 1116.7 914.6 1119.4 C920.0 1122.1 925.3 1124.9 930.5 1127.7 C935.6 1130.5 940.6 1133.4 945.5 1136.2 C950.5 1139.0 955.3 1141.6 960.1 1144.6 C964.9 1147.6 969.5 1150.7 974.3 1154.2 C979.0 1157.7 984.0 1161.9 988.6 1165.5 C993.2 1169.2 997.6 1172.1 1001.9 1175.9 C1006.1 1179.8 1010.3 1184.0 1014.0 1188.6 C1017.8 1193.1 1021.2 1198.4 1024.3 1203.4 C1027.4 1208.4 1029.9 1213.4 1032.6 1218.7 C1035.2 1223.9 1037.6 1229.3 1040.0 1234.8 C1042.4 1240.2 1044.6 1245.7 1046.9 1251.4 C1049.1 1257.0 1051.2 1263.1 1053.4 1268.6 C1055.6 1274.0 1057.7 1278.9 1059.9 1284.1 C1062.1 1289.4 1064.9 1295.6 1066.7 1300.0 C1068.6 1304.5 1070.3 1309.1 1071.0 1311.0"/>
<path class="l" d="M1096.1 1322.6 C1095.9 1321.0 1095.2 1316.6 1094.7 1312.9 C1094.1 1309.2 1093.4 1304.1 1092.8 1300.1 C1092.2 1296.2 1091.7 1293.0 1091.1 1289.1 C1090.5 1285.2 1089.9 1280.8 1089.3 1276.7 C1088.6 1272.7 1088.0 1268.5 1087.4 1264.6 C1086.8 1260.6 1086.2 1256.8 1085.6 1252.9 C1085.0 1249.0 1084.4 1245.2 1083.8 1241.3 C1083.2 1237.4 1082.7 1233.6 1082.1 1229.7 C1081.6 1225.8 1081.1 1221.9 1080.7 1217.9 C1080.2 1213.9 1079.8 1209.8 1079.4 1205.9 C1079.0 1201.9 1078.7 1198.2 1078.3 1194.3 C1078.0 1190.4 1077.7 1186.5 1077.4 1182.5 C1077.1 1178.5 1076.8 1174.1 1076.6 1170.0 C1076.4 1165.9 1076.3 1162.1 1076.2 1158.0 C1076.2 1154.0 1076.2 1149.8 1076.2 1145.6 C1076.3 1141.5 1076.5 1137.2 1076.6 1133.2 C1076.8 1129.1 1077.0 1125.3 1077.2 1121.3 C1077.4 1117.4 1077.7 1113.6 1078.0 1109.5 C1078.3 1105.4 1078.7 1100.7 1078.9 1096.6 C1079.2 1092.5 1079.4 1088.9 1079.6 1084.7 C1079.9 1080.6 1080.2 1076.1 1080.5 1071.8 C1080.8 1067.6 1081.0 1063.3 1081.5 1059.2 C1081.9 1055.1 1082.3 1051.2 1083.0 1047.1 C1083.6 1042.9 1084.5 1038.4 1085.3 1034.4 C1086.1 1030.5 1086.9 1027.0 1087.8 1023.3 C1088.7 1019.6 1089.5 1015.9 1090.5 1012.1 C1091.5 1008.4 1092.6 1004.5 1093.7 1000.9 C1094.8 997.2 1096.0 993.8 1097.3 990.3 C1098.5 986.8 1099.8 983.6 1101.2 979.9 C1102.5 976.2 1104.1 971.7 1105.6 968.1 C1107.1 964.5 1107.6 960.6 1110.3 958.2 C1113.0 955.7 1118.1 953.5 1121.7 953.4 C1125.3 953.2 1129.2 955.3 1131.8 957.5 C1134.4 959.6 1136.7 962.7 1137.3 966.2 C1137.9 969.6 1136.5 974.5 1135.5 978.1 C1134.4 981.7 1132.6 984.7 1131.2 988.0 C1129.8 991.3 1128.5 994.3 1127.1 998.0 C1125.7 1001.6 1124.0 1006.1 1122.6 1010.0 C1121.3 1013.9 1120.1 1017.9 1119.1 1021.5 C1118.0 1025.1 1117.3 1028.1 1116.5 1031.6 C1115.7 1035.2 1115.1 1039.2 1114.5 1042.7 C1113.9 1046.3 1113.4 1049.2 1112.8 1053.0 C1112.3 1056.8 1111.6 1061.1 1111.0 1065.3 C1110.4 1069.4 1109.7 1073.7 1109.2 1077.8 C1108.6 1081.9 1108.0 1085.8 1107.5 1089.9 C1106.9 1094.1 1106.2 1098.6 1105.7 1102.9 C1105.1 1107.1 1104.6 1111.1 1104.1 1115.2 C1103.6 1119.3 1103.2 1123.2 1102.8 1127.3 C1102.4 1131.4 1102.0 1136.0 1101.7 1139.9 C1101.5 1143.8 1101.3 1147.1 1101.1 1150.8 C1100.9 1154.5 1100.7 1158.5 1100.6 1162.2 C1100.5 1166.0 1100.4 1169.6 1100.5 1173.4 C1100.6 1177.3 1100.8 1181.3 1101.0 1185.4 C1101.3 1189.4 1101.7 1193.8 1102.1 1198.0 C1102.5 1202.2 1102.9 1206.4 1103.4 1210.6 C1103.9 1214.8 1104.4 1218.9 1105.0 1223.0 C1105.5 1227.2 1106.2 1231.3 1106.8 1235.5 C1107.4 1239.6 1108.1 1243.8 1108.8 1247.9 C1109.5 1252.1 1110.2 1256.2 1110.9 1260.4 C1111.6 1264.6 1112.3 1268.8 1113.0 1273.0 C1113.7 1277.3 1114.4 1281.5 1115.2 1285.7 C1115.9 1290.0 1116.5 1293.8 1117.3 1298.7 C1118.1 1303.5 1119.5 1312.1 1119.9 1314.8"/>
<path class="l" d="M1138.1 974.2 C1138.3 975.5 1139.1 978.7 1139.1 981.9 C1139.1 985.2 1138.8 989.7 1138.1 993.5 C1137.5 997.4 1136.2 1002.1 1135.0 1005.2 C1133.9 1008.3 1133.0 1010.8 1131.2 1012.1 C1129.4 1013.5 1125.5 1013.4 1124.2 1013.3 C1122.8 1013.2 1123.2 1012.0 1123.0 1011.7"/>
<path class="l" d="M1104.8 963.7 C1103.8 965.0 1100.5 968.3 1098.6 971.1 C1096.8 973.9 1095.0 977.3 1094.0 980.4 C1093.0 983.5 1092.6 986.8 1092.5 989.7 C1092.3 992.5 1092.6 995.4 1092.8 997.4 C1093.1 999.5 1093.8 1001.3 1094.0 1002.1"/>
<path class="l" d="M998.4 1029.0 L1042.9 1167.7"/>
<path class="l" d="M1009.7 1029.0 L1054.5 1163.3"/>
<path class="l" d="M1008.1 1179.4 L993.5 1184.2 L1081.2 1451.6 L1206.6 1409.3 L1122.3 1141.6 L1102.9 1148.0"/>
<path class="l" d="M1041.0 1168.5 L1075.8 1157.0"/>
<path class="l" d="M1052.6 1270.3 C1052.7 1272.6 1052.6 1279.4 1053.5 1283.9 C1054.5 1288.4 1056.0 1293.2 1058.4 1297.4 C1060.8 1301.6 1064.2 1305.5 1068.1 1309.0 C1071.9 1312.6 1077.1 1316.3 1081.6 1318.7 C1086.1 1321.1 1090.6 1323.1 1095.2 1323.5 C1099.7 1324.0 1104.5 1323.1 1108.7 1321.6 C1112.9 1320.2 1116.9 1318.2 1120.3 1314.8 C1123.7 1311.5 1126.8 1306.1 1129.0 1301.3 C1131.3 1296.5 1132.9 1291.3 1133.9 1285.8 C1134.8 1280.3 1135.5 1273.9 1134.8 1268.4 C1134.2 1262.9 1132.4 1257.7 1130.0 1252.9 C1127.6 1248.1 1123.5 1243.1 1120.3 1239.4 C1117.1 1235.6 1113.2 1232.6 1110.6 1230.6 C1108.1 1228.7 1105.8 1228.2 1104.8 1227.7"/>
<path class="l" d="M1068.1 1233.5 C1069.0 1232.7 1071.6 1229.6 1073.9 1228.7 C1076.1 1227.8 1080.3 1228.2 1081.6 1228.1"/>
<path class="l" d="M1068.1 1233.5 C1069.4 1237.1 1072.9 1246.5 1075.8 1254.8 C1078.7 1263.2 1082.6 1274.2 1085.5 1283.9 C1088.4 1293.5 1091.9 1308.1 1093.2 1312.9"/>
<path class="l" d="M1113.2 1442.3 L1126.1 1479.0 L1183.9 1459.9 L1173.5 1423.7"/>
<path class="l" d="M1058.1 1372.6 C1058.2 1375.4 1058.8 1382.9 1059.1 1389.2 C1059.3 1395.6 1059.6 1403.9 1059.6 1410.7 C1059.5 1417.5 1059.1 1423.6 1058.7 1430.0 C1058.4 1436.4 1057.8 1442.9 1057.3 1449.1 C1056.8 1455.3 1056.6 1461.1 1055.9 1467.0 C1055.3 1472.9 1054.5 1478.6 1053.3 1484.5 C1052.1 1490.3 1050.4 1496.5 1048.6 1502.2 C1046.8 1507.8 1044.5 1513.1 1042.3 1518.3 C1040.0 1523.6 1037.5 1528.1 1035.1 1533.7 C1032.7 1539.4 1030.2 1546.1 1027.8 1552.2 C1025.5 1558.2 1023.1 1564.2 1021.0 1570.1 C1018.9 1575.9 1016.8 1581.5 1015.0 1587.3 C1013.2 1593.0 1011.5 1598.8 1010.2 1604.6 C1008.8 1610.4 1008.0 1616.3 1007.0 1622.2 C1005.9 1628.2 1005.0 1634.3 1004.1 1640.4 C1003.2 1646.5 1002.1 1652.9 1001.3 1658.9 C1000.5 1664.9 999.9 1670.5 999.3 1676.2 C998.8 1682.0 998.5 1687.6 998.2 1693.5 C997.8 1699.3 997.7 1705.3 997.4 1711.3 C997.2 1717.2 996.8 1723.1 996.7 1729.2 C996.5 1735.4 996.5 1741.8 996.6 1748.2 C996.7 1754.5 997.1 1761.2 997.5 1767.6 C997.8 1773.9 998.4 1780.4 998.9 1786.2 C999.5 1792.1 1000.2 1797.3 1000.9 1802.9 C1001.6 1808.4 1002.4 1813.9 1003.2 1819.5 C1004.1 1825.1 1004.9 1831.0 1005.9 1836.6 C1006.8 1842.2 1007.6 1847.5 1008.9 1853.1 C1010.2 1858.8 1011.7 1864.6 1013.5 1870.3 C1015.3 1876.1 1017.4 1881.6 1019.8 1887.4 C1022.1 1893.2 1024.5 1899.5 1027.4 1905.2 C1030.3 1910.9 1033.4 1916.7 1037.3 1921.8 C1041.2 1926.8 1045.8 1931.7 1050.9 1935.4 C1056.0 1939.0 1062.1 1942.5 1067.9 1943.7 C1073.7 1945.0 1080.3 1944.5 1085.8 1942.9 C1091.2 1941.2 1096.6 1937.6 1100.9 1933.9 C1105.1 1930.2 1108.1 1925.7 1111.4 1920.8 C1114.7 1916.0 1118.0 1910.5 1120.8 1904.8 C1123.6 1899.2 1126.1 1893.0 1128.1 1886.9 C1130.1 1880.8 1131.6 1874.3 1132.7 1868.3 C1133.8 1862.3 1134.3 1857.1 1134.8 1851.2 C1135.2 1845.2 1135.4 1839.1 1135.5 1832.8 C1135.5 1826.5 1135.4 1819.9 1135.2 1813.4 C1135.1 1806.9 1134.8 1800.2 1134.6 1793.7 C1134.3 1787.2 1134.0 1780.8 1133.7 1774.3 C1133.3 1767.9 1132.9 1761.4 1132.5 1755.0 C1132.0 1748.5 1131.5 1742.1 1131.0 1735.6 C1130.5 1729.2 1130.0 1722.7 1129.5 1716.3 C1129.0 1709.9 1128.5 1703.3 1128.1 1697.0 C1127.6 1690.7 1127.1 1684.4 1126.7 1678.6 C1126.2 1672.8 1125.7 1667.8 1125.3 1662.1 C1124.9 1656.3 1124.5 1649.9 1124.2 1644.1 C1124.0 1638.3 1123.9 1633.1 1123.7 1627.3 C1123.6 1621.6 1123.5 1615.5 1123.4 1609.5 C1123.3 1603.6 1123.3 1597.4 1123.2 1591.4 C1123.2 1585.4 1123.2 1579.6 1123.3 1573.7 C1123.3 1567.8 1123.4 1561.7 1123.5 1555.9 C1123.6 1550.0 1123.8 1544.4 1123.9 1538.5 C1124.1 1532.6 1124.2 1526.8 1124.4 1520.4 C1124.6 1514.0 1124.9 1506.7 1125.2 1499.8 C1125.5 1492.9 1126.0 1482.5 1126.1 1479.0"/>
<path class="l" d="M1081.2 1451.6 C1080.5 1454.1 1078.5 1460.8 1077.1 1466.3 C1075.6 1471.9 1074.0 1478.5 1072.4 1484.9 C1070.8 1491.3 1069.1 1498.3 1067.6 1504.9 C1066.1 1511.4 1064.5 1517.9 1063.4 1524.2 C1062.3 1530.4 1062.2 1536.2 1061.0 1542.3 C1059.8 1548.3 1057.9 1554.3 1056.2 1560.3 C1054.5 1566.2 1052.5 1572.2 1050.6 1578.0 C1048.8 1583.8 1046.8 1589.4 1044.8 1595.2 C1042.9 1600.9 1040.9 1606.8 1039.0 1612.5 C1037.0 1618.3 1034.6 1624.2 1033.1 1629.8 C1031.5 1635.3 1030.5 1640.4 1029.8 1645.9 C1029.0 1651.4 1028.8 1656.9 1028.4 1662.8 C1028.1 1668.6 1027.9 1674.7 1027.7 1681.1 C1027.5 1687.5 1027.5 1694.7 1027.4 1701.1 C1027.4 1707.5 1027.5 1713.3 1027.6 1719.5 C1027.7 1725.6 1027.8 1732.0 1028.0 1738.1 C1028.2 1744.2 1028.4 1750.2 1028.7 1756.0 C1029.0 1761.8 1029.4 1767.3 1029.8 1773.0 C1030.3 1778.7 1030.8 1784.4 1031.3 1790.3 C1031.8 1796.3 1032.2 1802.4 1032.8 1808.5 C1033.4 1814.6 1033.9 1821.0 1034.6 1827.1 C1035.4 1833.2 1036.2 1839.1 1037.2 1845.0 C1038.2 1850.8 1039.3 1856.8 1040.6 1862.3 C1041.9 1867.8 1043.2 1872.7 1045.2 1878.0 C1047.1 1883.3 1049.4 1889.2 1052.5 1894.1 C1055.7 1899.0 1059.5 1904.5 1064.3 1907.4 C1069.1 1910.3 1076.2 1912.7 1081.1 1911.5 C1086.0 1910.3 1090.5 1904.7 1093.8 1900.1 C1097.1 1895.4 1098.9 1889.1 1100.9 1883.5 C1102.9 1877.8 1104.4 1871.9 1105.7 1866.0 C1107.0 1860.2 1107.9 1854.3 1108.6 1848.6 C1109.4 1842.9 1109.9 1837.5 1110.2 1831.6 C1110.5 1825.8 1110.6 1819.8 1110.6 1813.6 C1110.6 1807.5 1110.4 1801.0 1110.2 1794.6 C1110.0 1788.2 1109.7 1781.4 1109.4 1775.2 C1109.1 1768.9 1108.7 1763.3 1108.3 1757.1 C1108.0 1751.0 1107.5 1744.6 1107.2 1738.5 C1106.8 1732.5 1106.4 1726.5 1106.0 1720.6 C1105.7 1714.6 1105.3 1708.9 1105.0 1702.9 C1104.6 1696.9 1104.2 1690.4 1103.9 1684.4 C1103.5 1678.3 1103.2 1672.8 1102.9 1666.8 C1102.6 1660.8 1102.2 1654.6 1101.9 1648.5 C1101.6 1642.4 1101.4 1636.2 1101.2 1630.2 C1101.0 1624.2 1100.8 1618.3 1100.8 1612.5 C1100.7 1606.6 1100.7 1600.9 1100.7 1595.1 C1100.7 1589.3 1100.7 1583.5 1100.8 1577.7 C1100.9 1571.9 1101.0 1566.1 1101.1 1560.3 C1101.2 1554.5 1101.4 1548.7 1101.6 1542.9 C1101.8 1537.1 1102.0 1531.3 1102.3 1525.5 C1102.5 1519.7 1102.7 1514.1 1102.9 1507.9 C1103.1 1501.8 1103.3 1495.2 1103.5 1488.8 C1103.8 1482.3 1104.0 1475.7 1104.2 1469.3 C1104.4 1462.8 1104.7 1453.2 1104.8 1450.0"/>
<path class="l" d="M1151.4 1471.2 C1151.4 1473.3 1151.5 1478.8 1151.5 1483.8 C1151.6 1488.7 1151.7 1494.9 1151.8 1501.1 C1151.9 1507.3 1152.0 1514.3 1152.1 1520.9 C1152.1 1527.5 1152.2 1534.2 1152.2 1540.6 C1152.3 1546.9 1152.3 1552.8 1152.2 1559.0 C1152.2 1565.3 1152.1 1571.8 1152.1 1578.2 C1152.0 1584.5 1151.9 1591.0 1151.9 1597.1 C1151.8 1603.1 1151.8 1608.3 1151.7 1614.2 C1151.7 1620.1 1151.7 1626.3 1151.7 1632.6 C1151.7 1638.9 1151.7 1645.9 1151.9 1652.0 C1152.0 1658.1 1152.3 1663.4 1152.7 1669.2 C1153.1 1674.9 1153.7 1680.6 1154.4 1686.3 C1155.2 1692.1 1156.1 1697.8 1157.2 1703.5 C1158.3 1709.3 1159.6 1715.1 1161.0 1721.0 C1162.4 1726.9 1163.9 1733.1 1165.5 1738.8 C1167.1 1744.6 1168.7 1750.2 1170.6 1755.5 C1172.4 1760.8 1174.3 1765.8 1176.4 1770.9 C1178.5 1776.0 1180.6 1780.9 1183.1 1786.1 C1185.6 1791.3 1188.3 1796.7 1191.4 1802.2 C1194.4 1807.7 1198.2 1813.9 1201.4 1819.1 C1204.6 1824.3 1207.5 1828.8 1210.7 1833.5 C1213.9 1838.2 1217.1 1842.8 1220.6 1847.2 C1224.0 1851.7 1227.2 1855.9 1231.2 1860.2 C1235.1 1864.5 1239.5 1869.5 1244.3 1873.1 C1249.0 1876.8 1254.5 1879.7 1259.9 1882.4 C1265.3 1885.0 1270.9 1887.1 1276.5 1889.2 C1282.2 1891.2 1288.0 1893.6 1293.8 1894.8 C1299.6 1896.0 1305.6 1896.9 1311.5 1896.4 C1317.4 1895.9 1323.7 1894.0 1329.1 1891.8 C1334.4 1889.6 1339.0 1886.7 1343.4 1883.1 C1347.8 1879.6 1352.0 1875.2 1355.5 1870.6 C1359.0 1866.0 1362.0 1861.0 1364.4 1855.7 C1366.8 1850.3 1368.7 1844.5 1369.9 1838.5 C1371.2 1832.6 1371.8 1825.8 1372.0 1820.0 C1372.3 1814.1 1372.0 1809.2 1371.6 1803.5 C1371.3 1797.9 1370.7 1792.2 1370.0 1786.2 C1369.3 1780.2 1368.6 1773.7 1367.7 1767.4 C1366.7 1761.1 1365.5 1754.7 1364.1 1748.5 C1362.6 1742.3 1361.0 1736.2 1359.2 1730.3 C1357.4 1724.4 1355.4 1718.7 1353.3 1713.2 C1351.2 1707.7 1349.2 1702.7 1346.5 1697.5 C1343.8 1692.3 1340.4 1687.2 1336.9 1681.9 C1333.5 1676.6 1329.3 1671.4 1325.8 1665.9 C1322.2 1660.4 1319.0 1654.6 1315.8 1648.9 C1312.7 1643.3 1309.8 1637.3 1306.9 1632.0 C1304.0 1626.6 1301.2 1621.9 1298.3 1617.0 C1295.4 1612.1 1292.4 1607.3 1289.3 1602.6 C1286.3 1597.9 1283.2 1593.3 1280.0 1588.8 C1276.8 1584.3 1273.5 1579.9 1269.9 1575.5 C1266.4 1571.2 1262.8 1567.0 1258.9 1562.8 C1255.0 1558.6 1251.1 1554.5 1246.6 1550.3 C1242.2 1546.1 1237.3 1541.9 1232.5 1537.7 C1227.7 1533.5 1222.6 1529.4 1217.7 1525.1 C1212.9 1520.8 1207.8 1516.3 1203.2 1512.0 C1198.7 1507.7 1194.3 1503.8 1190.2 1499.4 C1186.1 1495.0 1182.6 1491.0 1178.8 1485.6 C1175.0 1480.2 1169.3 1470.2 1167.4 1467.1"/>
<path class="t" d="M499.4 166.8 C501.5 166.6 508.4 165.9 512.3 165.2 C516.1 164.5 519.4 163.8 522.6 162.6 C525.8 161.4 529.0 160.1 531.6 158.1 C534.2 156.0 536.5 153.3 538.1 150.3 C539.7 147.3 540.6 144.3 541.3 140.0 C541.9 135.7 541.7 129.2 541.9 124.5 C542.2 119.8 542.3 115.1 542.6 111.6 C542.9 108.2 542.9 106.3 543.9 103.9 C544.8 101.4 546.1 98.4 548.4 96.8 C550.6 95.2 553.8 94.7 557.4 94.2 C561.1 93.7 566.0 93.5 570.3 93.8 C574.6 94.1 579.1 95.2 583.2 96.1 C587.3 97.1 592.9 98.8 594.8 99.4"/>
<path class="t" d="M535.9 439.4 C536.5 440.6 537.8 444.3 539.5 446.6 C541.1 448.8 543.2 451.5 545.8 452.9 C548.4 454.3 551.1 454.9 554.8 454.7 C558.6 454.6 564.6 452.8 568.4 452.0 C572.2 451.2 573.7 450.1 577.4 449.7 C581.2 449.4 587.8 448.8 591.0 449.7 C594.1 450.7 595.2 452.8 596.4 455.6 C597.6 458.4 598.0 462.3 598.2 466.5 C598.4 470.6 598.4 473.2 597.7 480.6 C597.1 488.1 595.1 506.2 594.5 511.3"/>
<path class="t" d="M1074.8 266.1 C1074.5 270.2 1073.8 280.9 1072.6 290.3 C1071.4 299.7 1070.2 312.9 1067.7 322.6 C1065.3 332.3 1062.4 341.9 1058.1 348.4 C1053.8 354.8 1047.8 358.5 1041.9 361.3 C1036.0 364.1 1029.0 363.3 1022.6 365.2 C1016.1 367.0 1009.1 368.4 1003.2 372.6 C997.3 376.8 992.5 382.5 987.1 390.3 C981.7 398.1 976.3 409.7 971.0 419.4 C965.6 429.0 960.2 438.7 954.8 448.4 C949.5 458.1 942.7 470.2 938.7 477.4 C934.7 484.7 932.0 489.5 930.6 491.9"/>
<path class="a" d="M918.7 510.3 L919.4 482.3 L941.9 494.2Z"/>
<path class="t" d="M1209.7 472.6 C1205.9 474.7 1193.5 480.4 1187.1 485.5 C1180.6 490.6 1174.2 497.0 1171.0 503.2 C1167.7 509.4 1167.7 515.6 1167.7 522.6 C1167.7 529.6 1169.9 538.2 1171.0 545.2 C1172.0 552.2 1175.3 558.6 1174.2 564.5 C1173.1 570.4 1170.4 575.5 1164.5 580.6 C1158.6 585.8 1147.3 590.9 1138.7 595.2 C1130.1 599.5 1120.2 603.3 1112.9 606.5 C1105.6 609.6 1098.1 612.6 1095.2 613.9"/>
<path class="t" d="M156.5 724.1 C158.9 724.6 166.0 725.8 171.0 727.2 C176.0 728.5 181.3 730.3 186.5 732.3 C191.6 734.4 197.6 737.0 201.9 739.5 C206.2 742.1 209.7 744.4 212.3 747.8 C214.8 751.2 215.9 755.2 217.4 760.2 C219.0 765.2 220.2 772.4 221.5 777.7 C222.9 783.1 223.8 787.9 225.7 792.2 C227.6 796.5 229.6 799.9 232.9 803.5 C236.2 807.2 240.6 810.9 245.3 813.9 C249.9 816.9 256.0 819.4 260.8 821.6 C265.6 823.8 269.5 825.3 274.2 827.3 C278.9 829.3 286.7 832.5 289.2 833.5"/>
<path class="t" d="M477.4 926.8 C473.1 928.8 460.2 933.8 451.6 938.7 C443.0 943.7 432.5 950.3 425.8 956.5 C419.1 962.6 414.2 968.3 411.3 975.8 C408.3 983.3 408.2 993.0 408.1 1001.6 C407.9 1010.2 410.1 1019.4 410.3 1027.4 C410.6 1035.5 410.9 1044.4 409.7 1050.0 C408.5 1055.6 406.5 1057.8 403.2 1061.3 C400.0 1064.8 394.6 1068.1 390.3 1071.0 C386.0 1073.8 379.6 1077.2 377.4 1078.4"/>
<path class="t" d="M825.5 1096.8 C825.5 1100.2 825.6 1111.1 825.5 1117.1 C825.3 1123.1 825.3 1127.4 824.5 1132.6 C823.7 1137.7 822.6 1143.7 820.6 1148.1 C818.7 1152.4 816.1 1156.3 812.9 1158.7 C809.7 1161.1 806.5 1162.1 801.3 1162.6 C796.1 1163.1 786.8 1161.1 781.9 1161.6 C777.1 1162.1 775.5 1162.6 772.3 1165.5 C769.0 1168.4 765.8 1173.9 762.6 1179.0 C759.4 1184.2 756.0 1191.0 752.9 1196.5 C749.8 1201.9 745.6 1209.4 744.2 1211.9"/>
<path class="t" d="M939.7 1118.1 C939.2 1120.5 938.2 1127.6 936.8 1132.6 C935.3 1137.6 933.2 1142.9 931.0 1148.1 C928.7 1153.2 925.8 1159.8 923.2 1163.5 C920.6 1167.3 917.7 1169.5 915.5 1170.3 C913.2 1171.1 911.6 1169.4 909.7 1168.4 C907.7 1167.4 905.8 1164.8 903.9 1164.5 C901.9 1164.2 900.3 1164.0 898.1 1166.5 C895.8 1168.9 892.9 1173.7 890.3 1179.0 C887.7 1184.4 885.2 1192.3 882.6 1198.4 C880.0 1204.5 877.3 1210.0 874.8 1215.8 C872.4 1221.6 869.2 1230.3 868.1 1233.2"/>
<path class="t" d="M1138.1 973.4 C1139.7 973.5 1143.9 973.7 1147.4 974.2 C1150.9 974.7 1155.2 975.9 1159.0 976.5 C1162.9 977.2 1165.5 977.7 1170.6 978.1 C1175.8 978.5 1182.4 979.2 1190.0 978.8 C1197.6 978.5 1209.1 978.2 1216.1 975.8 C1223.2 973.4 1227.4 970.2 1232.3 964.5 C1237.1 958.9 1240.9 950.0 1245.2 941.9 C1249.5 933.9 1253.2 922.3 1258.1 916.1 C1262.9 909.9 1268.3 906.9 1274.2 904.8 C1280.1 902.8 1287.4 903.3 1293.5 903.9 C1299.7 904.4 1308.3 907.4 1311.3 908.1"/>
<path class="t" d="M964.5 902.6 C964.5 907.0 963.7 920.3 964.5 929.0 C965.3 937.7 966.1 947.8 969.4 954.8 C972.6 961.8 978.8 966.1 983.9 971.0 C989.0 975.8 996.2 978.5 1000.0 983.9 C1003.8 989.2 1005.6 996.2 1006.5 1003.2 C1007.3 1010.2 1005.1 1022.0 1004.8 1025.8"/>
<path class="t" d="M1053.2 832.3 C1052.4 837.1 1049.7 850.5 1048.4 861.3 C1047.0 872.0 1044.9 886.6 1045.2 896.8 C1045.4 907.0 1048.1 915.1 1050.0 922.6 C1051.9 930.1 1055.6 934.4 1056.5 941.9 C1057.3 949.5 1056.2 958.1 1054.8 967.7 C1053.5 977.4 1051.1 988.2 1048.4 1000.0 C1045.7 1011.8 1042.5 1026.1 1038.7 1038.7 C1034.9 1051.3 1028.0 1069.6 1025.8 1075.8"/>
<path class="t" d="M1092.6 1076.8 C1096.0 1076.3 1106.3 1074.4 1112.9 1074.2 C1119.5 1074.0 1128.2 1073.7 1132.3 1075.8 C1136.3 1078.0 1136.7 1082.0 1137.1 1087.1 C1137.5 1092.2 1134.0 1101.3 1134.8 1106.5 C1135.6 1111.6 1137.0 1115.3 1141.9 1117.7 C1146.9 1120.2 1153.8 1120.5 1164.5 1121.0 C1175.3 1121.4 1191.4 1120.7 1206.5 1120.3 C1221.5 1119.9 1240.2 1119.2 1254.8 1118.7 C1269.5 1118.2 1287.6 1117.4 1294.2 1117.1"/>
<path class="t" d="M1127.4 1277.4 C1132.8 1273.9 1148.4 1263.2 1159.7 1256.5 C1171.0 1249.7 1183.9 1241.8 1195.2 1237.1 C1206.5 1232.4 1215.1 1229.8 1227.4 1228.4 C1239.8 1226.9 1255.9 1227.7 1269.4 1228.4 C1282.8 1229.0 1296.2 1232.4 1308.1 1232.3 C1319.9 1232.1 1330.6 1229.8 1340.3 1227.4 C1350.0 1225.0 1358.3 1220.7 1366.1 1217.7 C1373.9 1214.8 1383.6 1211.0 1387.1 1209.7"/>
<path class="t" d="M1179.0 1366.1 C1183.3 1364.0 1195.2 1356.6 1204.8 1353.2 C1214.5 1349.9 1225.3 1347.1 1237.1 1346.1 C1248.9 1345.2 1264.0 1346.7 1275.8 1347.4 C1287.6 1348.2 1297.3 1350.5 1308.1 1350.6 C1318.8 1350.8 1330.6 1350.6 1340.3 1348.4 C1350.0 1346.1 1358.6 1341.4 1366.1 1337.1 C1373.7 1332.8 1382.3 1325.0 1385.5 1322.6"/>
<path class="a" d="M1160.3 1376.8 L1174.2 1353.9 L1187.1 1374.2Z"/>
<path class="t" d="M1159.0 1444.5 C1164.0 1443.0 1178.4 1437.8 1188.7 1435.5 C1199.0 1433.2 1210.2 1431.2 1221.0 1430.6 C1231.7 1430.1 1242.5 1430.9 1253.2 1432.3 C1264.0 1433.6 1274.7 1436.6 1285.5 1438.7 C1296.2 1440.9 1305.9 1443.2 1317.7 1445.2 C1329.6 1447.2 1344.1 1449.6 1356.5 1450.6 C1368.8 1451.7 1380.4 1451.6 1391.9 1451.6 C1403.5 1451.6 1420.2 1450.8 1425.8 1450.6"/>
<path class="t" d="M939.7 1358.1 C943.5 1357.2 954.7 1353.7 962.9 1352.6 C971.1 1351.5 982.3 1351.0 988.7 1351.6 C995.2 1352.3 997.8 1353.5 1001.6 1356.5 C1005.4 1359.4 1008.1 1365.9 1011.3 1369.4 C1014.5 1372.8 1016.7 1376.1 1021.0 1377.4 C1025.3 1378.8 1030.6 1378.8 1037.1 1377.4 C1043.5 1376.1 1050.3 1373.1 1059.7 1369.4 C1069.1 1365.6 1087.9 1357.3 1093.5 1354.8"/>
<path class="t" d="M1396.8 1588.7 C1394.4 1590.1 1386.0 1593.0 1382.3 1596.8 C1378.5 1600.5 1375.3 1605.1 1374.2 1611.3 C1373.1 1617.5 1375.4 1626.1 1375.8 1633.9 C1376.2 1641.7 1377.3 1651.5 1376.8 1658.2 C1376.2 1664.9 1375.2 1670.0 1372.6 1674.3 C1370.0 1678.6 1366.4 1681.2 1361.3 1684.0 C1356.2 1686.8 1345.2 1689.9 1341.9 1691.1"/>
<path class="t" d="M850.0 1630.8 C854.0 1630.3 865.3 1629.0 874.2 1628.2 C883.1 1627.4 894.1 1625.9 903.2 1625.9 C912.4 1626.0 922.3 1626.9 929.0 1628.5 C935.8 1630.1 940.8 1631.7 943.5 1635.6 C946.3 1639.5 946.3 1645.3 945.8 1651.7 C945.3 1658.2 941.5 1667.9 940.3 1674.3 C939.1 1680.8 937.4 1686.6 938.7 1690.5 C940.1 1694.3 943.5 1696.2 948.4 1697.5 C953.2 1698.9 959.1 1698.9 967.7 1698.5 C976.3 1698.1 992.7 1696.1 1000.0 1695.3 C1007.3 1694.5 1009.4 1693.9 1011.3 1693.7"/>
<path class="t" d="M647.4 1818.5 C652.4 1818.7 665.4 1818.9 677.4 1819.5 C689.4 1820.0 705.9 1820.7 719.4 1821.7 C732.8 1822.8 746.2 1824.3 758.1 1825.9 C769.9 1827.5 781.2 1829.4 790.3 1831.4 C799.5 1833.4 807.5 1835.3 812.9 1837.9 C818.3 1840.5 819.4 1844.1 822.6 1846.9 C825.8 1849.8 826.9 1852.5 832.3 1855.0 C837.6 1857.4 845.7 1859.5 854.8 1861.4 C864.0 1863.3 875.3 1864.9 887.1 1866.3 C898.9 1867.6 912.1 1868.6 925.8 1869.5 C939.5 1870.4 962.1 1871.4 969.4 1871.7"/>
<path class="a" d="M995.2 1872.7 L969.4 1859.8 L969.4 1884.6Z"/>
<text transform="translate(603.2 119.0) scale(1 1.045)">37</text>
<text transform="translate(567.2 555.0) scale(1 1.045)">38</text>
<text transform="translate(1051.2 255.0) scale(1 1.045)">30</text>
<text transform="translate(1220.8 477.0) scale(1 1.045)">32a</text>
<text transform="translate(1033.7 818.0) scale(1 1.045)">22</text>
<text transform="translate(96.6 739.0) scale(1 1.045)">31</text>
<text transform="translate(315.9 1097.0) scale(1 1.045)">33</text>
<text transform="translate(827.2 1284.0) scale(1 1.045)">32c</text>
<text transform="translate(1322.2 927.0) scale(1 1.045)">35</text>
<text transform="translate(940.2 892.0) scale(1 1.045)">36</text>
<text transform="translate(1303.2 1132.0) scale(1 1.045)">32d</text>
<text transform="translate(876.4 1374.0) scale(1 1.045)">12</text>
<text transform="translate(1389.7 1216.0) scale(1 1.045)">13</text>
<text transform="translate(1386.4 1322.6) scale(1 1.045)">10</text>
<text transform="translate(1436.4 1464.5) scale(1 1.045)">15</text>
<text transform="translate(1398.2 1588.7) scale(1 1.045)">20</text>
<text transform="translate(757.9 1645.3) scale(1 1.045)">32b</text>
<text transform="translate(570.8 1840.5) scale(1 1.045)">32</text>
</svg>
</body></html>
